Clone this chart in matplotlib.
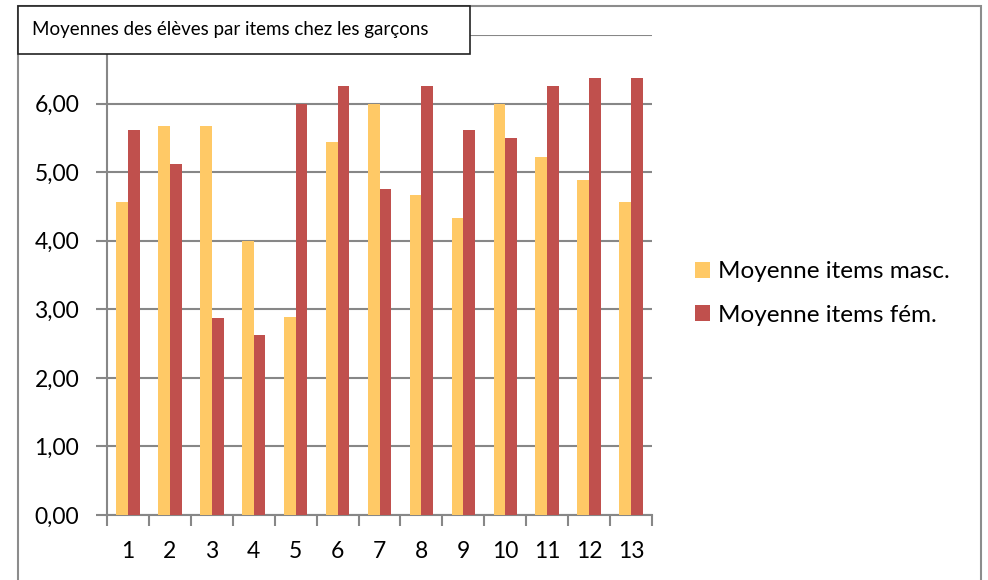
import matplotlib.pyplot as plt
from matplotlib.patches import Patch, Rectangle
from matplotlib.ticker import FuncFormatter, FixedLocator
import numpy as np

# données
items = [str(i) for i in range(1, 14)]
moy_masc = [4.56, 5.67, 5.67, 4.00, 2.89, 5.44, 6.00, 4.67, 4.33, 6.00, 5.22, 4.89, 4.56]
moy_fem = [5.62, 5.12, 2.88, 2.62, 6.00, 6.25, 4.75, 6.25, 5.62, 5.50, 6.25, 6.38, 6.38]
series_labels = ["Moyenne items masc.", "Moyenne items fém."]
titre = "Moyennes des élèves par items chez les garçons"

COL_MASC = "#FFC966"
COL_FEM = "#C0504D"
GRID = "#878787"
W, H = 988, 580

plt.rcParams['font.family'] = ['Lato', 'DejaVu Sans']

fig = plt.figure(figsize=(W / 100, H / 100), dpi=100)


def px_rect(x0, y0, x1, y1, **kw):
    # rectangle en pixels (origine en haut à gauche)
    r = Rectangle((x0 / W, 1 - y1 / H), (x1 - x0) / W, (y1 - y0) / H,
                  transform=fig.transFigure, **kw)
    fig.patches.append(r)
    return r


# cadre extérieur
px_rect(18, 6, 981, 600, edgecolor="#8C8C8C", linewidth=1.5, fill=False)

ax = fig.add_axes([107 / W, 1 - 515 / H, (652 - 107) / W, (515 - 35) / H])

x = np.arange(1, len(items) + 1)
bw = 0.28
ax.bar(x - bw / 2, moy_masc, bw, color=COL_MASC, zorder=3)
ax.bar(x + bw / 2, moy_fem, bw, color=COL_FEM, zorder=3)

ax.set_xlim(0.5, len(items) + 0.5)
ax.set_ylim(0, 7)
ax.set_yticks(np.arange(0, 7.01, 1))
ax.yaxis.set_major_formatter(FuncFormatter(lambda v, p: f"{v:.2f}".replace(".", ",") if v < 6.5 else ""))
ax.grid(axis="y", color=GRID, linewidth=1.5, zorder=0)

ax.xaxis.set_major_locator(FixedLocator(np.arange(0.5, len(items) + 1, 1)))
ax.xaxis.set_major_formatter(FuncFormatter(lambda v, p: ""))
ax.set_xticks(x, minor=True)
ax.set_xticklabels(items, minor=True, fontsize=16.5)
ax.tick_params(axis="x", which="minor", length=0, pad=19)
ax.tick_params(axis="x", which="major", length=8, color=GRID, width=1.5, direction="out")
ax.tick_params(axis="y", length=8, color=GRID, width=1.5, labelsize=16.5, pad=12)

for s in ["top", "right"]:
    ax.spines[s].set_visible(False)
for s in ["left", "bottom"]:
    ax.spines[s].set_color(GRID)
    ax.spines[s].set_linewidth(1.5)
ax.set_facecolor("none")

# boîte de titre
px_rect(18, 6, 470, 54, edgecolor="#222222", facecolor="white", linewidth=1.2, zorder=5)
fig.text(32 / W, 1 - 30 / H, titre, fontsize=13.5, va="center", ha="left", zorder=6)

handles = [Patch(facecolor=COL_MASC), Patch(facecolor=COL_FEM)]
fig.legend(handles, series_labels, loc="center left", bbox_to_anchor=(695 / W, 1 - 293.5 / H),
           frameon=False, fontsize=17.5, handlelength=0.62, handleheight=0.62,
           handletextpad=0.33, labelspacing=0.93, borderpad=0, borderaxespad=0)

fig.savefig("out.png", dpi=100)
